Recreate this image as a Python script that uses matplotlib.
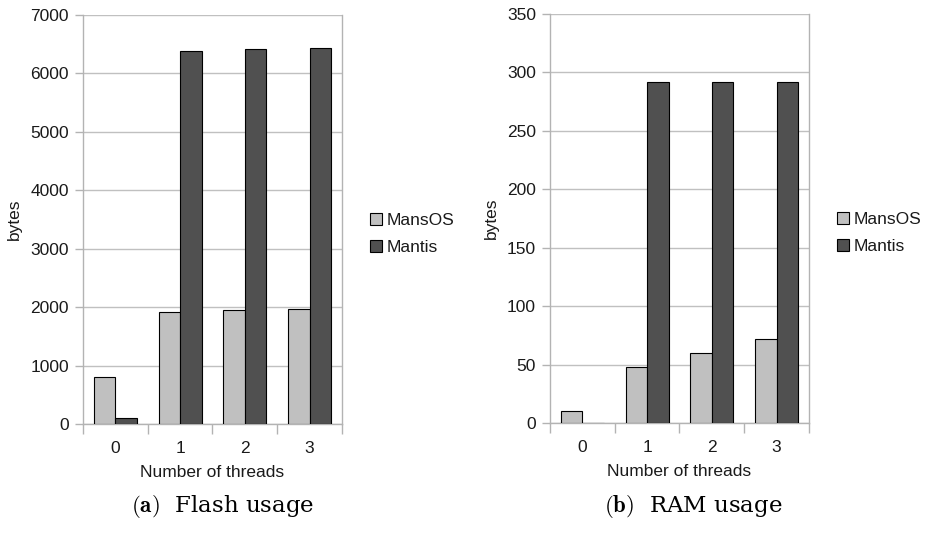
import numpy as np
import matplotlib
matplotlib.use('Agg')
import matplotlib.pyplot as plt
from matplotlib.patches import Patch

threads = ['0', '1', '2', '3']
series = ['MansOS', 'Mantis']
flash_mansos = [800, 1910, 1950, 1965]
flash_mantis = [100, 6380, 6410, 6430]
ram_mansos = [10, 48, 60, 72]
ram_mantis = [0, 292, 292, 292]
captions = [r'$\mathbf{(a)}$  Flash usage', r'$\mathbf{(b)}$  RAM usage']

plt.rcParams['font.family'] = ['Liberation Sans', 'DejaVu Sans']
plt.rcParams['mathtext.fontset'] = 'cm'

colors = ['#c0c0c0', '#505050']
grid_c = '#c0c0c0'
spine_c = '#b3b3b3'
txt_c = '#1a1a1a'
fs = 12.5

fig = plt.figure(figsize=(9.29, 5.46), dpi=100)
W, H = 929, 546


def draw_panel(rect, mansos, mantis, ymax, ystep, caption, cap_x):
    l, t, r, b = rect
    ax = fig.add_axes([l / W, 1 - b / H, (r - l) / W, (b - t) / H])
    x = np.arange(len(threads))
    w = 1 / 3
    ax.bar(x - w / 2, mansos, w, color=colors[0], edgecolor='black', linewidth=0.8, zorder=3)
    ax.bar(x + w / 2, mantis, w, color=colors[1], edgecolor='black', linewidth=0.8, zorder=3)
    ax.set_xlim(-0.5, len(threads) - 0.5)
    ax.set_ylim(0, ymax)
    ax.set_yticks(np.arange(0, ymax + 1, ystep))
    ax.yaxis.grid(True, color=grid_c, linewidth=1.0, zorder=0)
    ax.set_xticks(np.arange(-0.5, len(threads), 1))
    ax.set_xticklabels([])
    ax.set_xticks(x, minor=True)
    ax.set_xticklabels(threads, minor=True)
    ax.tick_params(axis='x', which='major', length=7, color=spine_c, width=1)
    ax.tick_params(axis='x', which='minor', length=0, pad=12, labelsize=fs, labelcolor=txt_c)
    ax.tick_params(axis='y', length=6, color=spine_c, width=1, pad=4, labelsize=fs, labelcolor=txt_c)
    for s in ['left', 'right', 'bottom']:
        ax.spines[s].set_color(spine_c)
        ax.spines[s].set_linewidth(1.0)
    ax.spines['top'].set_visible(False)
    ax.set_xlabel('Number of threads', fontsize=fs, color=txt_c, labelpad=7)
    ax.set_ylabel('bytes', fontsize=fs, color=txt_c, labelpad=6)
    handles = [Patch(facecolor=c, edgecolor='black', linewidth=0.8) for c in colors]
    ax.legend(handles, series, loc='center left', bbox_to_anchor=(1.08, 0.465), frameon=False,
              fontsize=fs, handlelength=0.7, handleheight=0.7, handletextpad=0.3,
              labelspacing=0.7, borderaxespad=0.0, labelcolor=txt_c)
    fig.text(cap_x / W, 1 - 507 / H, caption, ha='center', va='center', fontsize=16.5,
             family='serif', math_fontfamily='cm')
    return ax


draw_panel((83, 15, 342, 424), flash_mansos, flash_mantis, 7000, 1000, captions[0], 223)
draw_panel((550, 14, 809, 423), ram_mansos, ram_mantis, 350, 50, captions[1], 693)

fig.savefig('out.png', dpi=100)
